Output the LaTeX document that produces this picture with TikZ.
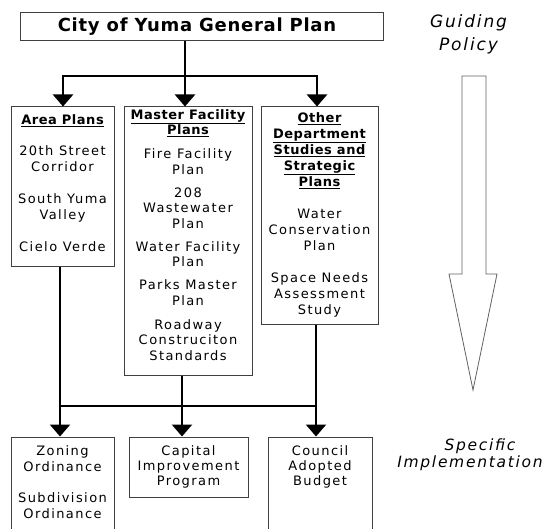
\documentclass[tikz,border=0pt]{standalone}
\usepackage{fontspec}
\setmainfont{DejaVu Sans}[LetterSpace=11, BoldFeatures={LetterSpace=4}]
\usetikzlibrary{arrows.meta}
\definecolor{boxgray}{HTML}{404040}
\definecolor{arrgray}{HTML}{606060}
\newcommand{\mystrut}[1]{\rule{0pt}{#1}}
\begin{document}
\begin{tikzpicture}[x=1pt,y=-1pt,
  box/.style={draw=boxgray, line width=1pt, inner sep=0pt, fill=white},
  conn/.style={line width=2.6pt, black},
  arr/.style={conn, -{Triangle[width=20pt,length=12pt]}},
  txt/.style={align=center, font=\fontsize{13}{16}\selectfont, inner sep=0pt, anchor=north},
  side/.style={align=center, inner sep=0pt, anchor=north}]
\useasboundingbox (0,0) rectangle (546,529);
\clip (0,0) rectangle (546,529);
% boxes
\node[box, minimum width=363pt, minimum height=28pt] (gp) at (201.5,27) {};
\node[box, minimum width=103pt, minimum height=160pt] (ap) at (62.5,187) {};
\node[box, minimum width=128pt, minimum height=268pt] (mf) at (188,241) {};
\node[box, minimum width=117pt, minimum height=217pt] (op) at (319.5,215.5) {};
\node[box, minimum width=103pt, minimum height=123pt] (zo) at (62.5,498.5) {};
\node[box, minimum width=119pt, minimum height=60pt] (cp) at (188.5,467) {};
\node[box, minimum width=104pt, minimum height=123pt] (cb) at (320,498.5) {};
% texts (first baseline = y + 10)
\node[inner sep=0pt, anchor=base, font=\fontsize{18}{22}\selectfont\bfseries] (gpt) at (197,32) {City of Yuma General Plan};
\node[txt] (apt) at (62.5,114) {\mystrut{10pt}\textbf{\underline{Area Plans}}\\[15pt]20th Street\\Corridor\\[16pt]South Yuma\\Valley\\[16pt]Cielo Verde};
\node[txt, font=\fontsize{13}{15.5}\selectfont] (mft) at (188,109) {\mystrut{10pt}\textbf{\underline{Master Facility}}\\\textbf{\underline{Plans}}\\[8.5pt]Fire Facility\\Plan\\[7.5pt]208\\Wastewater\\Plan\\[7.5pt]Water Facility\\Plan\\[7.5pt]Parks Master\\Plan\\[8.5pt]Roadway\\Construciton\\Standards};
\node[txt] (opt) at (319.5,112) {\mystrut{10pt}\textbf{\underline{Other}}\\\textbf{\underline{Department}}\\\textbf{\underline{Studies and}}\\\textbf{\underline{Strategic}}\\\textbf{\underline{Plans}}\\[16pt]Water\\Conservation\\Plan\\[16pt]Space Needs\\Assessment\\Study};
\node[txt] (zot) at (62.5,445) {\mystrut{10pt}Zoning\\Ordinance\\[15pt]Subdivision\\Ordinance};
\node[txt, font=\fontsize{13}{15}\selectfont] (cpt) at (188.5,445) {\mystrut{10pt}Capital\\Improvement\\Program};
\node[txt, font=\fontsize{13}{15}\selectfont] (cbt) at (320,445) {\mystrut{10pt}Council\\Adopted\\Budget};
\node[side, font=\fontsize{17}{23}\selectfont\itshape] (gpol) at (468.5,13) {\mystrut{14pt}Guiding\\Policy};
\node[side, font=\fontsize{15.5}{17.5}\selectfont\itshape] (simp) at (470,437) {\mystrut{13pt}\hspace*{20pt}Specific\\Implementation};
% big arrow
\draw[arrgray, line width=0.8pt, line join=miter] (462,76) -- (462,274) -- (449,274) -- (473,390) -- (497,274) -- (486,274) -- (486,76) -- cycle;
% top connectors
\coordinate (j1) at (185,76);
\coordinate (t1) at (63,76);
\coordinate (t3) at (317,76);
\draw[conn] (j1 |- gp.south) -- (j1);
\draw[arr] (j1) -| (t1 |- ap.north);
\draw[arr] (j1) -| (t3 |- op.north);
\draw[arr] (j1) -- (j1 |- mf.north);
% bottom connectors
\coordinate (b1) at (60,406);
\coordinate (b2) at (182,406);
\coordinate (b3) at (316,406);
\draw[arr] (b1 |- ap.south) -- (b1 |- zo.north);
\draw[arr] (b2 |- mf.south) -- (b2 |- cp.north);
\draw[arr] (b3 |- op.south) -- (b3 |- cb.north);
\draw[conn, line cap=rect] (b1) -- (b3);
\end{tikzpicture}
\end{document}
